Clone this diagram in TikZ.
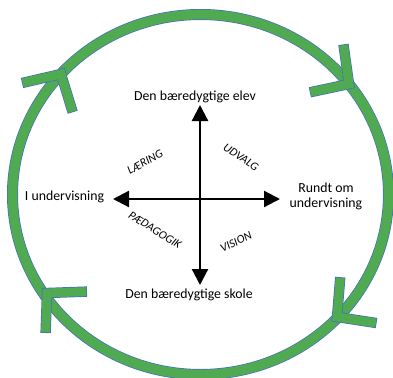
\documentclass[tikz,border=0pt]{standalone}
\usepackage{fontspec}
\setmainfont{Carlito}
\usetikzlibrary{arrows.meta}
\definecolor{ringgreen}{RGB}{80,170,82}
\definecolor{ringblue}{RGB}{70,110,190}
\tikzset{
  lbl/.style={font=\fontsize{13.8}{15}\selectfont, text=black, inner sep=0pt, align=center},
  qlbl/.style={font=\fontsize{11.8}{13}\selectfont\itshape, text=black, inner sep=0pt},
  axis/.style={line width=2.2pt, -{Triangle[length=16pt,width=16pt]}},
  chev/.pic={
    \draw[ringblue, line width=10.4pt, line join=miter] ({-40*cos(47)},{40*sin(47)}) -- (0,0) -- ({-40*cos(47)},{-40*sin(47)});
    \draw[ringgreen, line width=9pt, line join=miter] ({-39.3*cos(47)},{39.3*sin(47)}) -- (0,0) -- ({-39.3*cos(47)},{-39.3*sin(47)});
  }
}
\begin{document}
\begin{tikzpicture}[x=1pt,y=-1pt]
\useasboundingbox (0,0) rectangle (393,377);
% ring
\draw[ringblue, line width=11pt] (200.5,194.5) ellipse [x radius=188, y radius=180];
\draw[ringgreen, line width=9.6pt] (200.5,194.5) ellipse [x radius=188, y radius=180];
% chevrons
\pic[rotate=-35] at (349,84) {chev};
\pic[rotate=-141.7] at (337,317) {chev};
\pic[rotate=135] at (47,293) {chev};
\pic[rotate=60] at (61,74) {chev};
% axes
\coordinate (c) at (200,199);
\coordinate (top) at (200,105);
\coordinate (bot) at (200,285);
\coordinate (lft) at (113,199);
\coordinate (rgt) at (280,199);
\draw[axis] (c) -- (top);
\draw[axis] (c) -- (bot);
\draw[axis] (c) -- (lft);
\draw[axis] (c) -- (rgt);
% labels
\node[lbl] (elev) at (195,97) {Den bæredygtige elev};
\node[lbl] (skole) at (189,295) {Den bæredygtige skole};
\node[lbl] (iund) at (64.5,197) {I undervisning};
\node[lbl] (rund) at (326,196.5) {Rundt om\\undervisning};
\node[qlbl, rotate=29] (laering) at (145,162) {LÆRING};
\node[qlbl, rotate=-34] (udvalg) at (241,157) {UDVALG};
\node[qlbl, rotate=-32] (paed) at (155,230) {PÆDAGOGIK};
\node[qlbl, rotate=26] (vision) at (236,242) {VISION};
\end{tikzpicture}
\end{document}
